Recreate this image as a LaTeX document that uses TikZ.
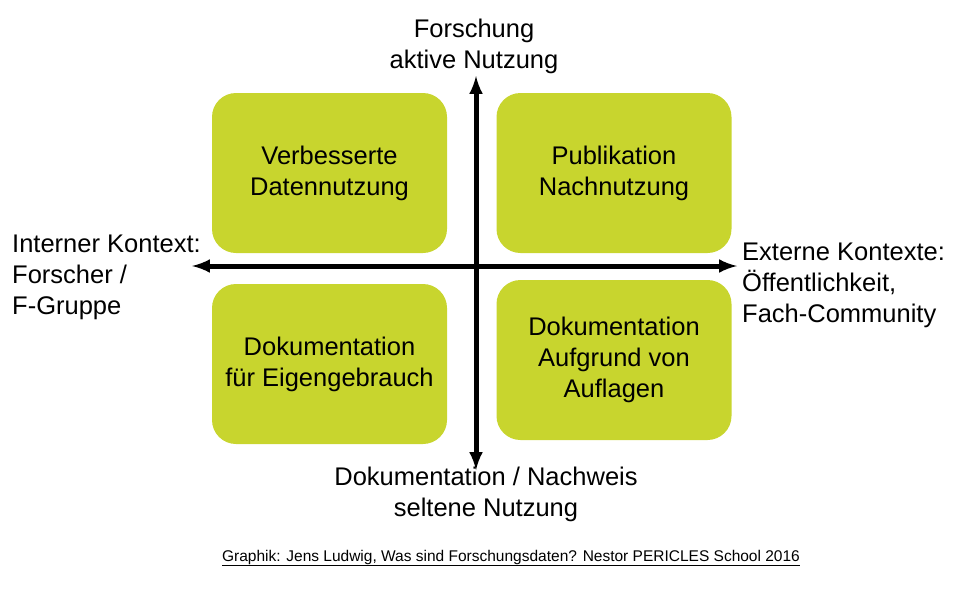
\documentclass[tikz,border=0pt]{standalone}
\usepackage{fontspec}
\setmainfont{Liberation Sans}
\usepackage{tikz}
\definecolor{quadgreen}{HTML}{C8D52E}
\begin{document}
\begin{tikzpicture}[x=1pt,y=-1pt]
    \tikzstyle{quad}=[fill=quadgreen,rounded corners=24pt,minimum width=235pt,minimum height=160pt,align=center,font=\fontsize{25.5}{31}\selectfont]
    \tikzstyle{axis}=[line width=5pt,<->,>=latex]
    \tikzstyle{annot}=[align=left,font=\fontsize{25.5}{31}\selectfont,inner sep=0pt]
    \useasboundingbox (0,0) rectangle (960,589);

    % quadrants
    \node[quad] (TL) at (329.5,173) {Verbesserte\\Datennutzung};
    \node[quad] (TR) at (614,173) {Publikation\\Nachnutzung};
    \node[quad] (BL) at (329.5,364) {Dokumentation\\für Eigengebrauch};
    \node[quad] (BR) at (614,360) {Dokumentation\\Aufgrund von\\Auflagen};

    % axes
    \coordinate (N) at (476,76);
    \coordinate (S) at (476,470);
    \coordinate (W) at (192,266);
    \coordinate (E) at (737,266);
    \draw[axis] (S) -- (N);
    \draw[axis] (W) -- (E);

    % annotate the axes
    \node[annot,align=center,anchor=south] (NL) at (474,74) {Forschung\\aktive Nutzung};
    \node[annot,align=center,anchor=north] (SL) at (486,467) {Dokumentation / Nachweis\\seltene Nutzung};
    \node[annot,anchor=west] (WL) at (12,277) {Interner Kontext:\\Forscher /\\F-Gruppe};
    \node[annot,anchor=west] (EL) at (742,285) {Externe Kontexte:\\Öffentlichkeit,\\Fach-Community};
    \node[font=\fontsize{15.5}{18}\selectfont] (CAP) at (511,558) {\underline{Graphik: Jens Ludwig, Was sind Forschungsdaten? Nestor PERICLES School 2016}};
\end{tikzpicture}
\end{document}
